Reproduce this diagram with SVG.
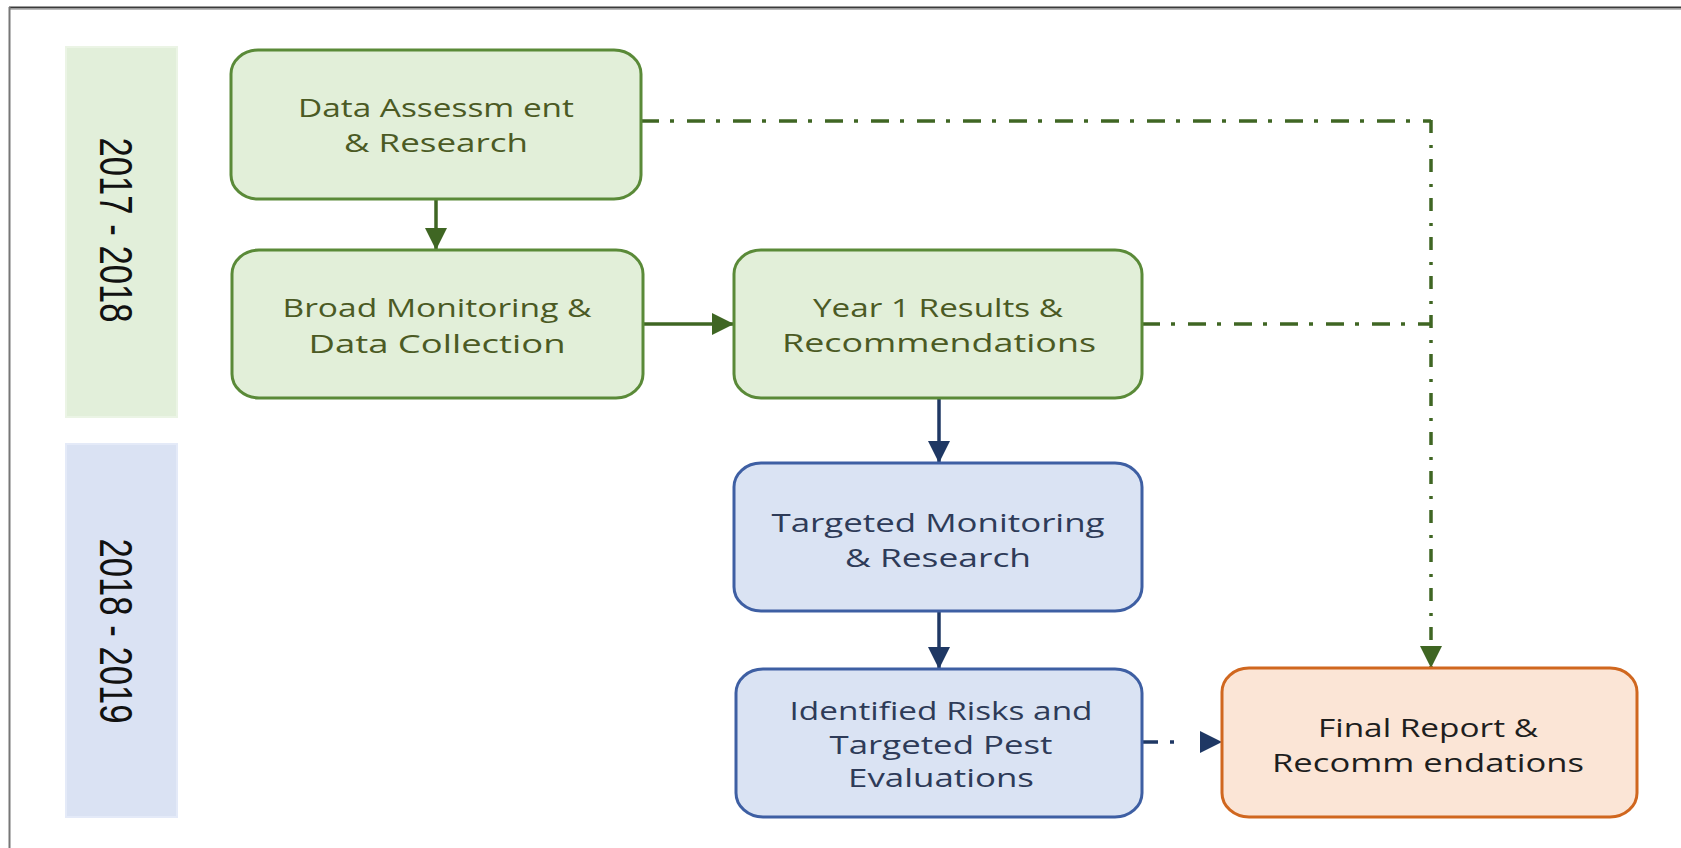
<svg xmlns="http://www.w3.org/2000/svg" width="1681" height="848" viewBox="0 0 1681 848">
  <style>
    .band-g { fill: #E2EFDA; stroke: #EBF4E5; stroke-width: 2; }
    .band-b { fill: #DAE2F3; stroke: #E4EAF8; stroke-width: 2; }
    .band-t { font-family: "Liberation Sans", Arial, sans-serif; font-size: 46px; fill: #111111; }
    .box-g { fill: #E2EFD9; stroke: #5A8A38; stroke-width: 3; }
    .box-b { fill: #DAE3F3; stroke: #3E5FA3; stroke-width: 3; }
    .box-o { fill: #FBE5D6; stroke: #D0671F; stroke-width: 3; }
    .t { font-family: "Open Sans", "DejaVu Sans", sans-serif; font-size: 26px; text-anchor: middle; }
    .t-g { fill: #4B5A24; }
    .t-b { fill: #2E3B58; }
    .t-o { fill: #1E1E1E; }
    .c-g { stroke: #3F6623; stroke-width: 3.5; fill: none; }
    .c-n { stroke: #1F3864; stroke-width: 3.5; fill: none; }
    .dd-h { stroke-dasharray: 18 11 4 13; }
    .dd-v { stroke-dasharray: 13 12 3 11; }
  </style>
  <defs>
    <marker id="ah-g" viewBox="0 0 22 22" refX="22" refY="11" markerWidth="22" markerHeight="22" markerUnits="userSpaceOnUse" orient="auto">
      <path d="M0,0 L22,11 L0,22 Z" fill="#3F6623"/>
    </marker>
    <marker id="ah-n" viewBox="0 0 22 22" refX="22" refY="11" markerWidth="22" markerHeight="22" markerUnits="userSpaceOnUse" orient="auto">
      <path d="M0,0 L22,11 L0,22 Z" fill="#1F3864"/>
    </marker>
  </defs>

  <rect width="1681" height="848" fill="#FFFFFF"/>

  <g id="frame">
    <line x1="9" y1="7.5" x2="1681" y2="7.5" stroke="#3A3A3A" stroke-width="2"/>
    <line x1="9" y1="9.5" x2="1681" y2="9.5" stroke="#BBBBBB" stroke-width="1"/>
    <line x1="9.5" y1="7" x2="9.5" y2="848" stroke="#777777" stroke-width="2"/>
  </g>

  <g id="band-2017-2018">
    <rect class="band-g" x="66" y="47" width="111" height="370"/>
    <text class="band-t" transform="translate(100,230) rotate(90)" text-anchor="middle" textLength="185" lengthAdjust="spacingAndGlyphs">2017 - 2018</text>
  </g>
  <g id="band-2018-2019">
    <rect class="band-b" x="66" y="444" width="111" height="373"/>
    <text class="band-t" transform="translate(100,631) rotate(90)" text-anchor="middle" textLength="185" lengthAdjust="spacingAndGlyphs">2018 - 2019</text>
  </g>

  <g id="connectors">
    <path class="c-g" d="M436,199 V250" marker-end="url(#ah-g)"/>
    <path class="c-g" d="M643,324 H734" marker-end="url(#ah-g)"/>
    <path class="c-n" d="M939,398 V463" marker-end="url(#ah-n)"/>
    <path class="c-n" d="M939,611 V669" marker-end="url(#ah-n)"/>
    <path class="c-n" d="M1142,742 H1222" stroke-dasharray="16 12 4 100" marker-end="url(#ah-n)"/>
    <path class="c-g dd-h" d="M641,121 H1431"/>
    <path class="c-g dd-h" d="M1142,324 H1431"/>
    <path class="c-g dd-v" d="M1431,120 V668" marker-end="url(#ah-g)"/>
  </g>

  <g id="node-data-assessment">
    <rect class="box-g" x="231" y="50" width="410" height="149" rx="27" ry="24"/>
    <text class="t t-g" x="436" y="117" textLength="276" lengthAdjust="spacingAndGlyphs">Data Assessm ent</text>
    <text class="t t-g" x="436" y="152" textLength="184" lengthAdjust="spacingAndGlyphs">&amp; Research</text>
  </g>

  <g id="node-broad-monitoring">
    <rect class="box-g" x="232" y="250" width="411" height="148" rx="27" ry="24"/>
    <text class="t t-g" x="437" y="317" textLength="309" lengthAdjust="spacingAndGlyphs">Broad Monitoring &amp;</text>
    <text class="t t-g" x="437" y="353" textLength="257" lengthAdjust="spacingAndGlyphs">Data Collection</text>
  </g>

  <g id="node-year1-results">
    <rect class="box-g" x="734" y="250" width="408" height="148" rx="27" ry="24"/>
    <text class="t t-g" x="938" y="317" textLength="250" lengthAdjust="spacingAndGlyphs">Year 1 Results &amp;</text>
    <text class="t t-g" x="939" y="352" textLength="314" lengthAdjust="spacingAndGlyphs">Recommendations</text>
  </g>

  <g id="node-targeted-monitoring">
    <rect class="box-b" x="734" y="463" width="408" height="148" rx="27" ry="24"/>
    <text class="t t-b" x="938" y="532" textLength="333" lengthAdjust="spacingAndGlyphs">Targeted Monitoring</text>
    <text class="t t-b" x="938" y="567" textLength="186" lengthAdjust="spacingAndGlyphs">&amp; Research</text>
  </g>

  <g id="node-identified-risks">
    <rect class="box-b" x="736" y="669" width="406" height="148" rx="27" ry="24"/>
    <text class="t t-b" x="941" y="720" textLength="303" lengthAdjust="spacingAndGlyphs">Identified Risks and</text>
    <text class="t t-b" x="941" y="754" textLength="223" lengthAdjust="spacingAndGlyphs">Targeted Pest</text>
    <text class="t t-b" x="941" y="787" textLength="186" lengthAdjust="spacingAndGlyphs">Evaluations</text>
  </g>

  <g id="node-final-report">
    <rect class="box-o" x="1222" y="668" width="415" height="149" rx="27" ry="24"/>
    <text class="t t-o" x="1428" y="737" textLength="220" lengthAdjust="spacingAndGlyphs">Final Report &amp;</text>
    <text class="t t-o" x="1428" y="772" textLength="312" lengthAdjust="spacingAndGlyphs">Recomm endations</text>
  </g>
</svg>
